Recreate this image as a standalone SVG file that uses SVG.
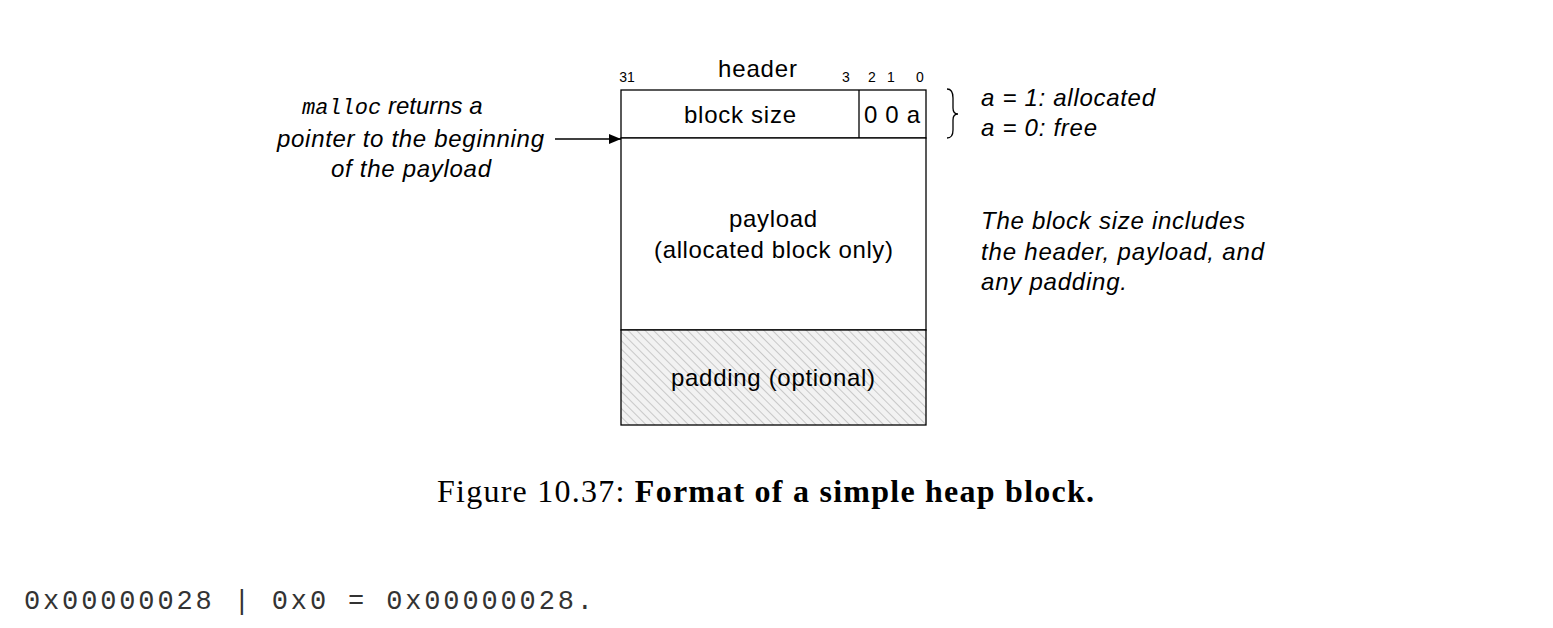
<svg xmlns="http://www.w3.org/2000/svg" width="1553" height="628" viewBox="0 0 1553 628">
<style>
.s{font-family:"Liberation Sans",Arial,sans-serif;fill:#000}
.i{font-family:"Liberation Sans",Arial,sans-serif;font-style:italic;font-size:24px}
.m{font-family:"Liberation Mono","Courier New",monospace}
.b{stroke:#000;stroke-width:1.3}
</style>
<defs>
<pattern id="h" width="6" height="6" patternUnits="userSpaceOnUse" patternTransform="rotate(-45)">
<rect width="6" height="6" fill="#f2f2f2"/>
<line x1="0" y1="0" x2="0" y2="6" stroke="#c8c8c8" stroke-width="2"/>
</pattern>
<marker id="a" markerWidth="12" markerHeight="10" refX="12" refY="5" orient="auto" markerUnits="userSpaceOnUse">
<path d="M0,0 L12,5 L0,10 z" fill="#000"/>
</marker>
</defs>
<g id="header">
<rect class="b" x="621" y="90" width="305" height="48" style="fill:#fff"/>
<line class="b" x1="859" y1="90" x2="859" y2="138"/>
<text class="s" x="718" y="77" font-size="24" textLength="79">header</text>
<text class="s" x="627" y="82" font-size="14" text-anchor="middle">31</text>
<text class="s" x="846" y="82" font-size="14" text-anchor="middle">3</text>
<text class="s" x="872" y="82" font-size="14" text-anchor="middle">2</text>
<text class="s" x="891" y="82" font-size="14" text-anchor="middle">1</text>
<text class="s" x="920" y="82" font-size="14" text-anchor="middle">0</text>
<text class="s" x="684" y="123" font-size="24" textLength="112">block size</text>
<text class="s" x="864" y="123" font-size="24" textLength="56">0 0 a</text>
</g>
<g id="payload">
<rect class="b" x="621" y="138" width="305" height="192" style="fill:#fff"/>
<text class="s" x="729" y="227" font-size="24" textLength="88">payload</text>
<text class="s" x="654" y="258" font-size="24" textLength="239">(allocated block only)</text>
</g>
<g id="padding">
<rect class="b" x="621" y="330" width="305" height="95" style="fill:url(#h)"/>
<text class="s" x="671" y="386" font-size="24" textLength="204">padding (optional)</text>
</g>
<g id="malloc-note">
<text x="302" y="114"><tspan class="m" font-size="22" font-style="italic">malloc</tspan><tspan class="i"> returns a</tspan></text>
<text class="i" x="277" y="147" textLength="267">pointer to the beginning</text>
<text class="i" x="331" y="177" textLength="160">of the payload</text>
</g>
<g id="alloc-note">
<path d="M947,89 Q953,89 953,98 L953,108 Q953,114 958,114 Q953,114 953,120 L953,130 Q953,138 947,138" fill="none" stroke="#000" stroke-width="1.3"/>
<text class="i" x="981" y="106" textLength="174">a = 1: allocated</text>
<text class="i" x="981" y="136" textLength="116">a = 0: free</text>
</g>
<g id="size-note">
<text class="i" x="981" y="229" textLength="264">The block size includes</text>
<text class="i" x="981" y="260" textLength="283">the header, payload, and</text>
<text class="i" x="981" y="290" textLength="146">any padding.</text>
</g>
<g id="connectors">
<line x1="555" y1="139" x2="621" y2="139" stroke="#000" stroke-width="1.3" marker-end="url(#a)"/>
</g>
<text x="437" y="502" font-family="Liberation Serif,Times New Roman,serif" font-size="32" textLength="657">Figure 10.37: <tspan font-weight="bold">Format of a simple heap block.</tspan></text>
<text class="m" x="24" y="609" font-size="27" fill="#333" textLength="569">0x00000028 | 0x0 = 0x00000028.</text>
</svg>
